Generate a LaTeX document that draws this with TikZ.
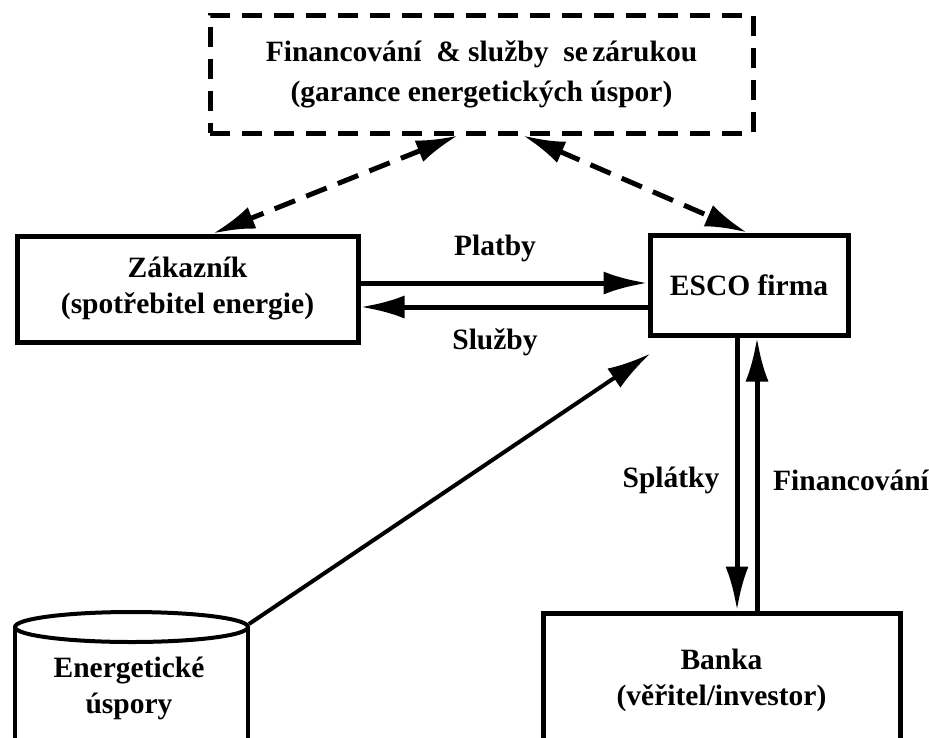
\documentclass[tikz,border=0pt]{standalone}
\usepackage{fontspec}
\setmainfont{Liberation Serif}
\usetikzlibrary{arrows.meta}
\begin{document}
\begin{tikzpicture}[x=1pt,y=-1pt]
\tikzset{
  txt/.style={font=\bfseries\fontsize{29.5}{36}\selectfont},
  blk/.style={draw, line width=5pt, rectangle, inner sep=0pt, align=center, txt},
  lbl/.style={inner sep=0pt, align=center, txt},
  flow/.style={line width=5pt, -{Latex[length=44pt,width=23pt]}},
  thinflow/.style={line width=4pt, -{Latex[length=44pt,width=23pt]}},
  dflow/.style={line width=5pt, dash pattern=on 22pt off 12pt,
                {Latex[length=42pt,width=23pt]}-{Latex[length=42pt,width=23pt]}},
}
\useasboundingbox (0,0) rectangle (929,737);
\clip (0,0) rectangle (929,737);
\fill[white] (0,0) rectangle (929,737);

% boxes
\node[blk, dash pattern=on 20pt off 12pt, minimum width=543pt, minimum height=118pt,
      font=\bfseries\fontsize{29.5}{40}\selectfont]
  (fin) at (481.5,74) {Financování\ \ \& služby\ \ se\hspace{0.15em}zárukou\\(garance energetických úspor)};
\node[blk, minimum width=341pt, minimum height=106pt] (zak) at (187.5,289)
  {Zákazník\\(spotřebitel energie)};
\node[blk, minimum width=198pt, minimum height=100pt] (esco) at (749,285) {ESCO firma};
\node[blk, minimum width=357pt, minimum height=134pt] (banka) at (721.5,680)
  {Banka\\(věřitel/investor)};

% storage cylinder
\draw[line width=4pt] (15,627) -- (15,760) (248,627) -- (248,760);
\draw[line width=4pt] (131.5,627) ellipse [x radius=116.5, y radius=15];
\node[lbl] (cyl) at (129,688) {Energetické\\úspory};
\coordinate (cyltop) at (249,624);

% helper coordinates for parallel connectors
\coordinate (yplat) at (0,283);
\coordinate (ysluz) at (0,307);
\coordinate (xspl) at (737,0);
\coordinate (xfin) at (757,0);
\coordinate (xd1) at (458,0);
\coordinate (xd2) at (523,0);
\coordinate (xz) at (213,0);
\coordinate (xe) at (747,0);

% connectors
\draw[flow] (zak.east |- yplat) -- (esco.west |- yplat);
\draw[flow] (esco.west |- ysluz) -- (zak.east |- ysluz);
\draw[flow] (esco.south -| xspl) -- (banka.north -| xspl);
\draw[flow] (banka.north -| xfin) -- (esco.south -| xfin);
\draw[dflow] (fin.south -| xd1) -- (zak.north -| xz);
\draw[dflow] (fin.south -| xd2) -- (esco.north -| xe);
\draw[thinflow] (cyltop) -- ([shift={(3pt,-16pt)}]esco.south west);

% labels
\node[lbl] (lplat) at (495,248) {Platby};
\node[lbl] (lsluz) at (495,342) {Služby};
\node[lbl] (lspl) at (671,480) {Splátky};
\node[lbl] (lfin) at (851,480) {Financování};
\end{tikzpicture}
\end{document}
